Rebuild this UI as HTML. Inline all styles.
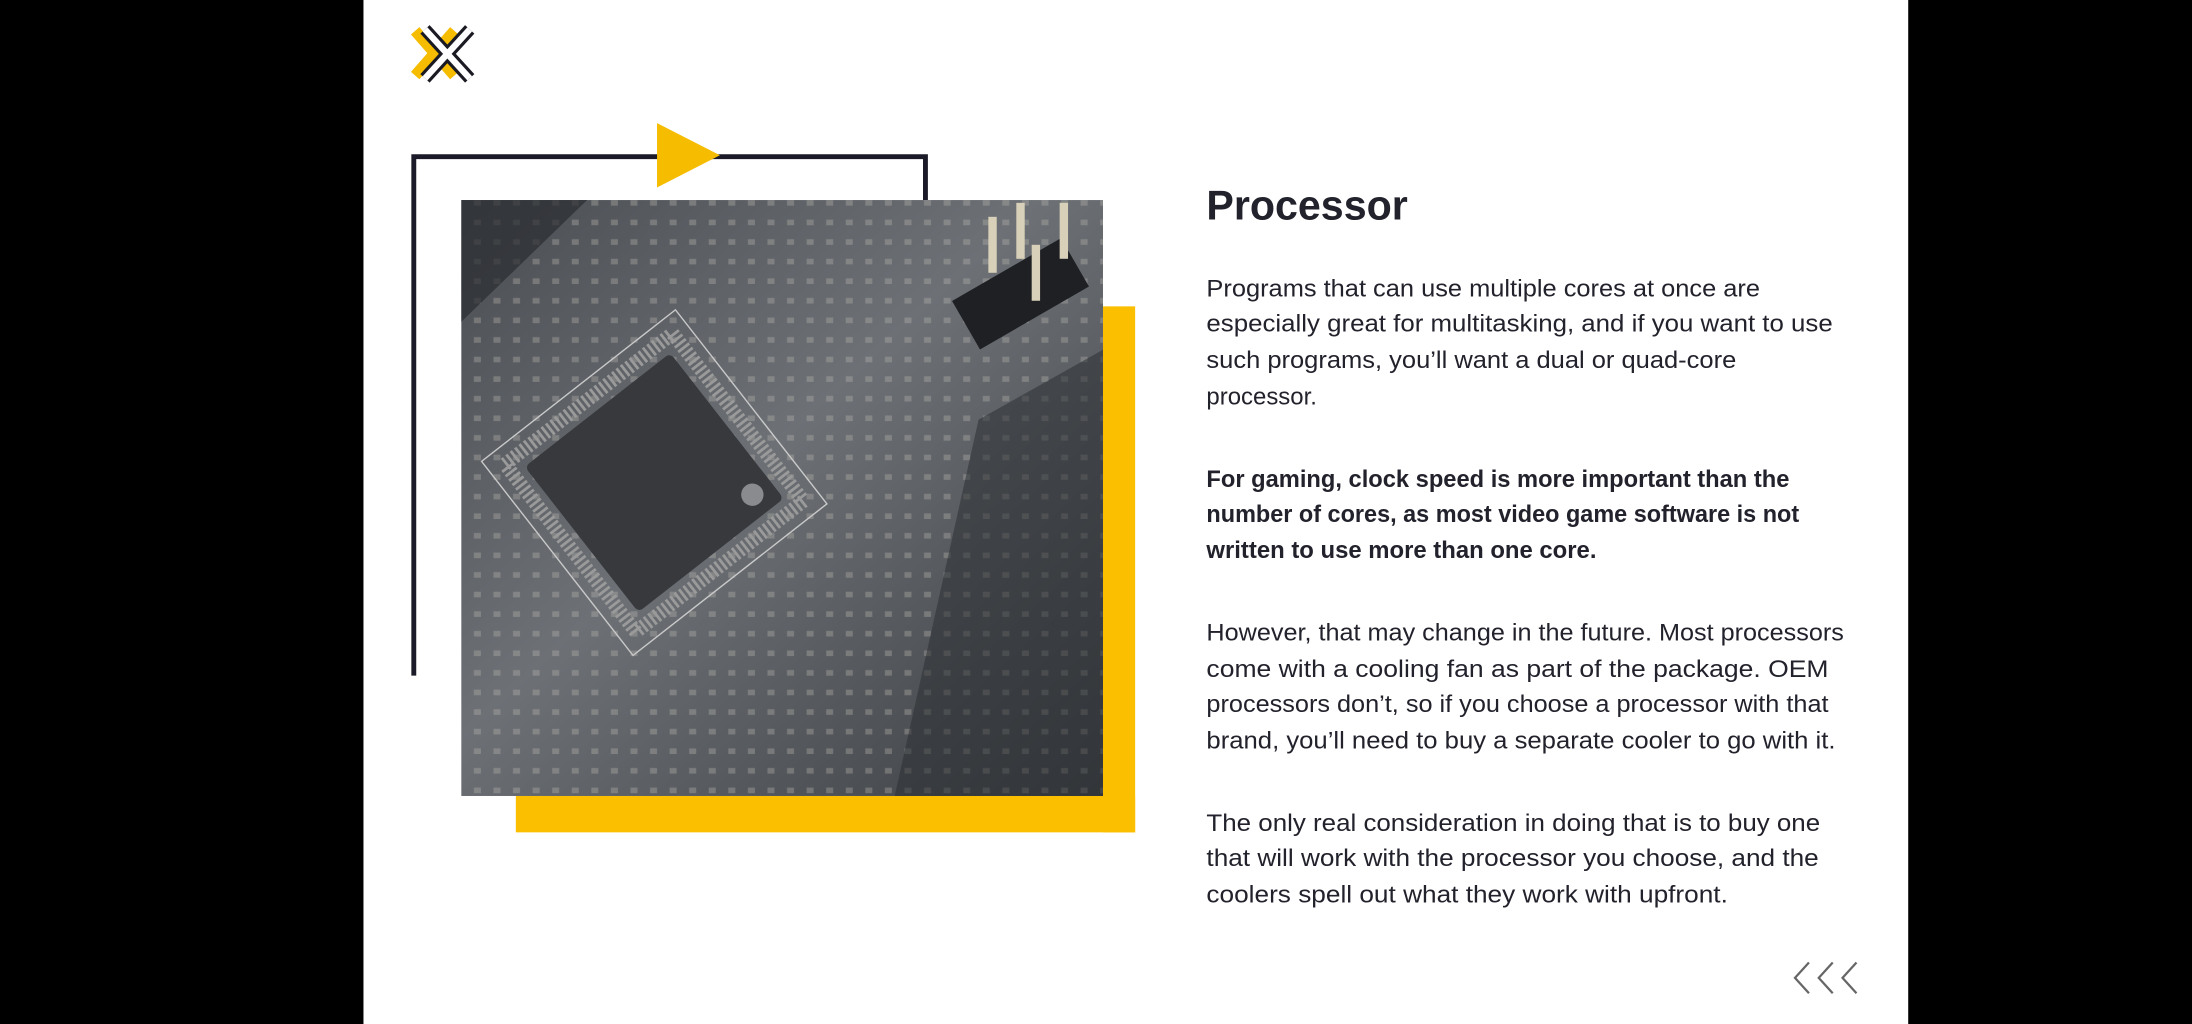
<!DOCTYPE html>
<html><head><meta charset="utf-8"><style>
html,body{margin:0;padding:0;background:#000;width:2192px;height:1024px;overflow:hidden}
svg{display:block}
text{font-family:"Liberation Sans",sans-serif;fill:#22222c}
</style></head><body>
<svg width="2192" height="1024" viewBox="0 0 1568 732" preserveAspectRatio="none">
<defs>
<linearGradient id="pg" x1="0" y1="0" x2="1" y2="1">
<stop offset="0" stop-color="#4a4d52"/><stop offset="0.45" stop-color="#6d7176"/><stop offset="1" stop-color="#3a3d41"/>
</linearGradient>
<pattern id="dots" width="14" height="14" patternUnits="userSpaceOnUse">
<rect x="3" y="3" width="5" height="4" fill="#b9b6ae" opacity="0.7"/>
</pattern>
</defs>
<rect x="0" y="0" width="1568" height="732" fill="#000"/>
<rect x="260" y="0" width="1105" height="732" fill="#fff"/>
<!-- logo -->
<g stroke-linecap="butt">
<path d="M297,22 L325,54 M325,22 L297,54" stroke="#f5bc00" stroke-width="8"/>
<path d="M304,21 L336,56 M336,21 L304,56" stroke="#1a1a22" stroke-width="9"/>
<path d="M304,21 L336,56 M336,21 L304,56" stroke="#fff" stroke-width="4.5"/>
</g>
<!-- black frame -->
<path d="M296,483 L296,112 L662,112 L662,143" fill="none" stroke="#1a1a28" stroke-width="3.5"/>
<polygon points="470,88 515,111 470,134" fill="#f5bc00"/>
<!-- yellow -->
<rect x="789" y="219" width="23" height="376" fill="#fbbf00"/>
<rect x="369" y="569" width="443" height="26" fill="#fbbf00"/>
<!-- photo -->
<rect x="330" y="143" width="459" height="426" fill="url(#pg)"/>
<rect x="330" y="143" width="459" height="426" fill="url(#dots)" opacity="0.5"/>
<path d="M330,143 L420,143 L330,230 Z" fill="#2a2c30" opacity="0.7"/>
<path d="M700,300 L789,250 L789,569 L640,569 Z" fill="#2c2f33" opacity="0.55"/>
<g transform="translate(468,345) rotate(-38)">
<rect x="-88" y="-88" width="176" height="176" fill="none" stroke="#c9c9c9" stroke-width="1"/>
<rect x="-76" y="-76" width="152" height="152" fill="none" stroke="#9a9a9a" stroke-width="10" stroke-dasharray="2 2"/>
<rect x="-66" y="-66" width="132" height="132" rx="4" fill="#37393d"/>
<circle cx="50" cy="50" r="8" fill="#8a8b8e"/>
</g>
<g fill="#1e2024">
<rect x="685" y="190" width="90" height="40" transform="rotate(-30 730 210)"/>
</g>
<g fill="#d8d0b8"><rect x="707" y="155" width="6" height="40"/><rect x="727" y="145" width="6" height="40"/><rect x="758" y="145" width="6" height="40"/><rect x="738" y="175" width="6" height="40"/></g>
<!-- text -->
<text x="863" y="157" font-size="30" font-weight="bold" textLength="144" lengthAdjust="spacingAndGlyphs">Processor</text>
<g font-size="17">
<text x="863" y="212" textLength="396" lengthAdjust="spacingAndGlyphs">Programs that can use multiple cores at once are</text>
<text x="863" y="237" textLength="448" lengthAdjust="spacingAndGlyphs">especially great for multitasking, and if you want to use</text>
<text x="863" y="263" textLength="379" lengthAdjust="spacingAndGlyphs">such programs, you’ll want a dual or quad-core</text>
<text x="863" y="289" textLength="79" lengthAdjust="spacingAndGlyphs">processor.</text>
</g>
<g font-size="17" font-weight="bold">
<text x="863" y="348" textLength="417" lengthAdjust="spacingAndGlyphs">For gaming, clock speed is more important than the</text>
<text x="863" y="373" textLength="424" lengthAdjust="spacingAndGlyphs">number of cores, as most video game software is not</text>
<text x="863" y="399" textLength="279" lengthAdjust="spacingAndGlyphs">written to use more than one core.</text>
</g>
<g font-size="17">
<text x="863" y="458" textLength="456" lengthAdjust="spacingAndGlyphs">However, that may change in the future. Most processors</text>
<text x="863" y="484" textLength="445" lengthAdjust="spacingAndGlyphs">come with a cooling fan as part of the package. OEM</text>
<text x="863" y="509" textLength="445" lengthAdjust="spacingAndGlyphs">processors don’t, so if you choose a processor with that</text>
<text x="863" y="535" textLength="450" lengthAdjust="spacingAndGlyphs">brand, you’ll need to buy a separate cooler to go with it.</text>
<text x="863" y="594" textLength="439" lengthAdjust="spacingAndGlyphs">The only real consideration in doing that is to buy one</text>
<text x="863" y="619" textLength="438" lengthAdjust="spacingAndGlyphs">that will work with the processor you choose, and the</text>
<text x="863" y="645" textLength="373" lengthAdjust="spacingAndGlyphs">coolers spell out what they work with upfront.</text>
</g>
<!-- chevrons -->
<g fill="none" stroke="#666" stroke-width="1.6">
<path d="M1294,688 L1284,699 L1294,710"/>
<path d="M1311,688 L1301,699 L1311,710"/>
<path d="M1328,688 L1318,699 L1328,710"/>
</g>
</svg>
</body></html>
